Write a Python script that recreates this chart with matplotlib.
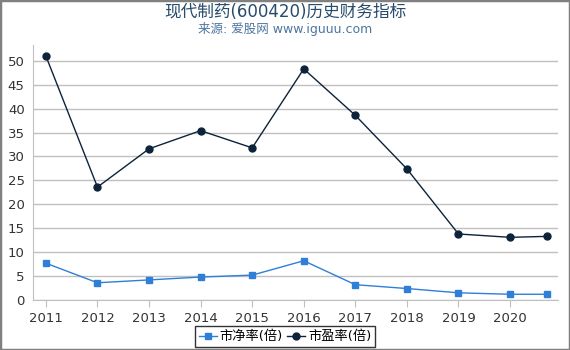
import matplotlib.pyplot as plt
from matplotlib.patches import Rectangle

plt.rcParams['font.family'] = ['DejaVu Sans', 'Noto Sans CJK SC']

# x positions in years (last point is a partial-year report)
years = [2011, 2012, 2013, 2014, 2015, 2016, 2017, 2018, 2019, 2020, 2020.72]
pb = [7.7, 3.6, 4.2, 4.8, 5.2, 8.2, 3.2, 2.4, 1.5, 1.2, 1.2]
pe = [51.0, 23.6, 31.6, 35.4, 31.8, 48.3, 38.6, 27.4, 13.8, 13.1, 13.3]
tick_years = list(range(2011, 2021))

fig = plt.figure(figsize=(5.7, 3.5), dpi=100)
ax = fig.add_axes([33 / 570, 50 / 350, 525 / 570, 255 / 350])

ax.plot(years, pb, color='#2f7ed8', marker='s', markersize=5, linewidth=1, label='市净率(倍)')
ax.plot(years, pe, color='#0d233a', marker='o', markersize=5, linewidth=1, label='市盈率(倍)')

ax.set_xlim(2010.75, 2020.93)
ax.set_ylim(0, 53.3)
ax.set_yticks(range(0, 51, 5))
ax.set_xticks(tick_years)
ax.set_xticklabels([str(y) for y in tick_years])
ax.yaxis.grid(True, color='#c0c0c0', linewidth=1)
ax.set_axisbelow(True)
for s in ['top', 'right']:
    ax.spines[s].set_visible(False)
ax.spines['left'].set_color('#c0c0c0')
ax.spines['bottom'].set_color('#c0c0c0')
ax.tick_params(axis='both', labelsize=9.5, colors='#333333')
ax.tick_params(axis='y', length=0, pad=6)
ax.tick_params(axis='x', color='#c0c0c0', length=5)

fig.text(0.5, 0.966, '现代制药(600420)历史财务指标', ha='center', va='center', fontsize=12, color='#274b6d')
fig.text(0.5, 0.918, '来源: 爱股网 www.iguuu.com', ha='center', va='center', fontsize=9, color='#4d759e')

leg = fig.legend(loc='lower center', bbox_to_anchor=(0.5, 0.0), ncol=2, fontsize=9.5,
                 frameon=True, fancybox=False, edgecolor='black', handlelength=1.4,
                 handletextpad=0.2, columnspacing=0.3, borderpad=0.3, borderaxespad=0.2)
leg.get_frame().set_linewidth(1)

fig.patches.append(Rectangle((0, 0), 1, 1, transform=fig.transFigure, fill=False,
                             edgecolor='#808080', linewidth=2.5))

fig.savefig('out.png', dpi=100)
